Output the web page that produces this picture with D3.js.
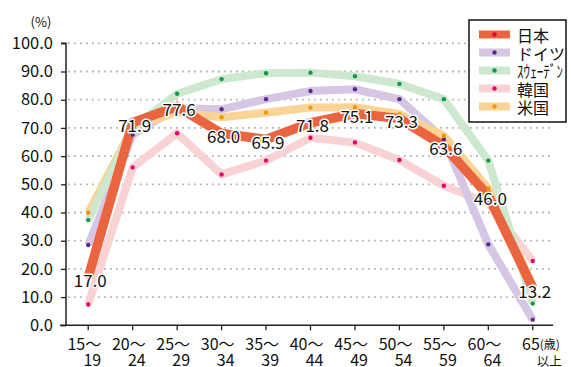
<!DOCTYPE html>
<html>
<head>
<meta charset="utf-8">
<script src="https://cdn.jsdelivr.net/npm/d3@7/dist/d3.min.js"></script>
<style>
  html, body { margin: 0; padding: 0; background: #fff; }
  svg { display: block; font-family: "Noto Sans CJK JP", "Noto Sans", sans-serif; }
</style>
</head>
<body>
<svg id="chart" width="571" height="367"></svg>
<script>
// Age groups (two-line labels)
const ageTop = ["15～", "20～", "25～", "30～", "35～", "40～", "45～", "50～", "55～", "60～", "65"];
const ageBottom = ["19", "24", "29", "34", "39", "44", "49", "54", "59", "64", "以上"];
const ages = ageTop.map((t, i) => t + ageBottom[i]);

// Labour force participation rate by age (%)
const japan   = [17.0, 71.9, 77.6, 68.0, 65.9, 71.8, 75.1, 73.3, 63.6, 46.0, 13.2];
const germany = [28.5, 67.6, 77.0, 76.6, 80.2, 83.1, 83.7, 80.2, 66.0, 28.7, 2.0];
const sweden  = [37.3, 70.0, 82.1, 87.3, 89.4, 89.6, 88.3, 85.6, 80.2, 58.4, 7.7];
const korea   = [7.4, 56.0, 68.1, 53.5, 58.4, 66.5, 64.8, 58.6, 49.5, 43.3, 22.8];
const usa     = [39.9, 70.2, 75.6, 73.8, 75.4, 77.2, 77.3, 74.9, 67.2, 48.5, 14.0];

const seriesNames = ["日本", "ドイツ", "ｽｳｪｰﾃﾞﾝ", "韓国", "米国"];
const yTicks = [0, 10, 20, 30, 40, 50, 60, 70, 80, 90, 100];

const series = [
  { name: seriesNames[0], values: japan,   line: "#ea6440", dot: "#e60033", width: 9.5 },
  { name: seriesNames[1], values: germany, line: "#d5c7e4", dot: "#5b2a8c", width: 8 },
  { name: seriesNames[2], values: sweden,  line: "#cde8cf", dot: "#13984a", width: 8 },
  { name: seriesNames[3], values: korea,   line: "#f9d3d3", dot: "#e4006a", width: 8 },
  { name: seriesNames[4], values: usa,     line: "#fad495", dot: "#f29600", width: 8 }
];

const svg = d3.select("#chart");
const margin = { left: 66, right: 18, top: 44, bottom: 41 };
const W = 571, H = 367;

const x = d3.scaleBand().domain(ages).range([margin.left, 555]).paddingInner(0).paddingOuter(0);
const cx = d => x(d) + x.bandwidth() / 2;
const y = d3.scaleLinear().domain([0, 100]).range([H - margin.bottom - 0.7, margin.top - 0.7]);

// Dotted grid lines
svg.append("g").selectAll("line").data(yTicks.filter(v => v > 0)).join("line")
  .attr("x1", margin.left + 2).attr("x2", 553)
  .attr("y1", d => y(d)).attr("y2", d => y(d))
  .attr("stroke", "#b4b4b4").attr("stroke-width", 1.8)
  .attr("stroke-dasharray", "1.8,4.2");

// Y axis
const yAxis = d3.axisLeft(y).tickValues(yTicks).tickSize(5).tickPadding(8)
  .tickFormat(d3.format(".1f"));
const gy = svg.append("g").attr("transform", `translate(${margin.left},0)`).call(yAxis);
gy.select(".domain").attr("stroke", "#222").attr("stroke-width", 1.5).attr("d", `M-5,${y(100)}H0V${y(0)}`);
gy.selectAll(".tick line").attr("stroke", "#222").attr("stroke-width", 1.3);
gy.selectAll(".tick text").attr("font-size", 16.5).attr("fill", "#111")
  .attr("font-family", "'Noto Sans CJK JP', sans-serif");

svg.append("text").attr("x", 41).attr("y", 27).attr("text-anchor", "middle")
  .attr("font-size", 13).attr("fill", "#111").text("(%)");

// X axis
const xAxis = d3.axisBottom(x).tickSize(5).tickFormat("");
const gx = svg.append("g").attr("transform", `translate(0,${y(0)})`).call(xAxis);
gx.select(".domain").attr("stroke", "#222").attr("stroke-width", 1.5)
  .attr("d", `M${margin.left - 6},0H553`);
gx.selectAll(".tick line").attr("stroke", "#222").attr("stroke-width", 1.3);

const xl = svg.append("g").attr("font-size", 16).attr("fill", "#111");
ages.forEach((a, i) => {
  const px = cx(a);
  const last = i === ages.length - 1;
  if (!last) {
    xl.append("text").attr("x", px + 13).attr("y", 350).attr("text-anchor", "end").text(ageTop[i]);
    xl.append("text").attr("x", px + 13).attr("y", 365.5).attr("text-anchor", "end").text(ageBottom[i]);
  } else {
    xl.append("text").attr("x", px + 7).attr("y", 350).attr("text-anchor", "end").text(ageTop[i]);
    xl.append("text").attr("x", px + 7).attr("y", 349).attr("font-size", 12).text("(歳)");
    xl.append("text").attr("x", px + 4).attr("y", 365.5).attr("font-size", 12.5).text(ageBottom[i]);
  }
});

// Lines (Japan drawn last, on top)
const line = d3.line().x((d, i) => cx(ages[i])).y(d => y(d));
const drawOrder = [series[3], series[1], series[4], series[2], series[0]];
const gl = svg.append("g");
drawOrder.forEach(s => {
  gl.append("path").datum(s.values).attr("d", line)
    .attr("fill", "none").attr("stroke", s.line).attr("stroke-width", s.width)
    .attr("stroke-linejoin", "miter").attr("stroke-linecap", "butt");
});
drawOrder.forEach(s => {
  gl.append("g").selectAll("circle").data(s.values).join("circle")
    .attr("cx", (d, i) => cx(ages[i])).attr("cy", d => y(d)).attr("r", 2.2)
    .attr("fill", s.dot);
});

// Value labels for Japan
svg.append("g").selectAll("text").data(japan).join("text")
  .attr("x", (d, i) => cx(ages[i]) + 2).attr("y", d => y(d) + 2)
  .attr("text-anchor", "middle").attr("dominant-baseline", "central")
  .attr("font-size", 17).attr("fill", "#111")
  .attr("stroke", "#fff").attr("stroke-width", 3).attr("paint-order", "stroke")
  .attr("stroke-linejoin", "round")
  .text(d => d.toFixed(1));

// Legend
const lg = svg.append("g");
lg.append("rect").attr("x", 469).attr("y", 20).attr("width", 97).attr("height", 102)
  .attr("fill", "#fff").attr("stroke", "#111").attr("stroke-width", 1.5);
series.forEach((s, i) => {
  const ly = 34.5 + i * 18;
  lg.append("rect").attr("x", 479).attr("y", ly - 4).attr("width", 31).attr("height", 8).attr("fill", s.line);
  lg.append("circle").attr("cx", 494.5).attr("cy", ly).attr("r", 2.2).attr("fill", s.dot);
  const t = lg.append("text").attr("x", 517).attr("y", ly).attr("dominant-baseline", "central")
    .attr("font-size", 16).attr("fill", "#111").text(s.name);
  if (i === 2) t.attr("font-size", 17).attr("textLength", 46).attr("lengthAdjust", "spacingAndGlyphs");
});
</script>
</body>
</html>
